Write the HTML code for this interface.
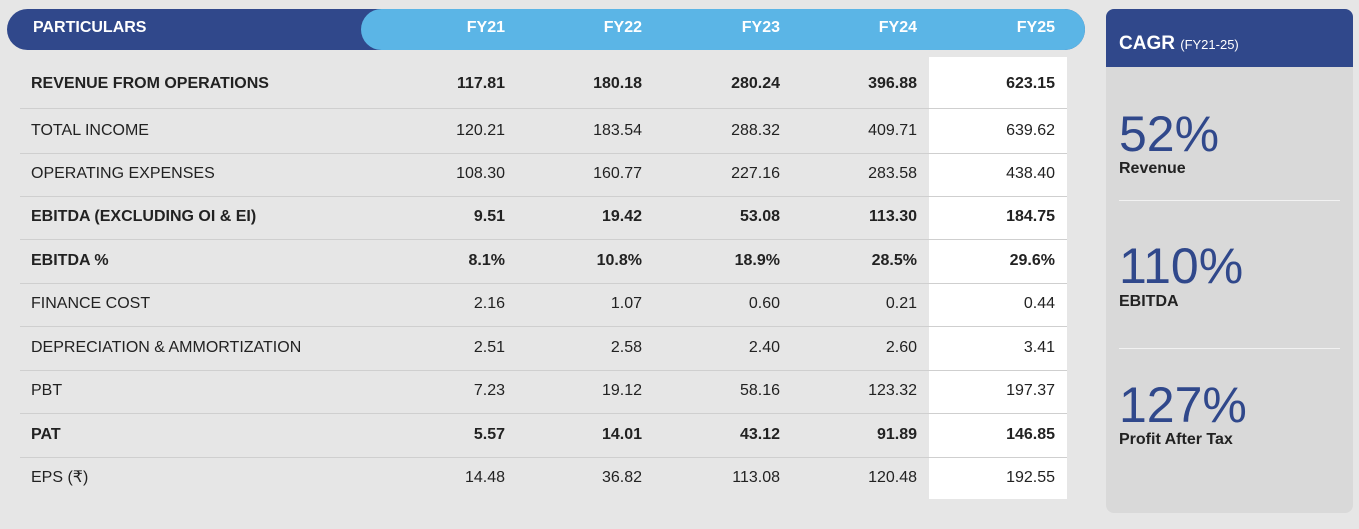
<!DOCTYPE html>
<html><head><meta charset="utf-8"><style>
body{margin:0;width:1359px;height:529px;background:#e6e6e6;font-family:"Liberation Sans",sans-serif;position:relative;overflow:hidden}
.abs{position:absolute}
.hdr{left:7px;top:9px;width:1078px;height:41px;background:#30488b;border-radius:21px}
.hdr2{left:361px;top:9px;width:724px;height:41px;background:#5bb5e6;border-radius:21px}
.ht{color:#fff;font-weight:bold;font-size:16px;top:19px}
.cell{font-size:16px;color:#222;height:20px;line-height:20px}
.b{font-weight:bold}
.div{left:20px;width:1047px;height:1px;background:#cfcfcf}
.wcol{left:929px;top:57px;width:138px;height:442px;background:#fff}
.panel{left:1106px;top:9px;width:247px;height:504px;background:#d9d9d9;border-radius:8px;overflow:hidden}
.phead{left:0;top:0;width:247px;height:58px;background:#30488b}
.big{left:13px;font-size:50px;color:#30488b;line-height:50px}
.lbl{left:13px;font-size:16px;font-weight:bold;color:#222}
.sep{left:13px;width:221px;height:1px;background:#f2f2f2}
</style></head><body>
<div class="abs wcol"></div>
<div class="abs hdr"></div>
<div class="abs hdr2"></div>
<div class="abs ht" style="left:33px">PARTICULARS</div>
<div id="tbl"></div>
<div class="abs panel">
<div class="abs phead"></div>
<div class="abs" style="left:13px;top:24px;color:#fff;font-size:19px;font-weight:bold">CAGR <span style="font-size:13px;font-weight:normal">(FY21-25)</span></div>
<div class="abs big" style="top:100px">52%</div>
<div class="abs lbl" style="top:151px">Revenue</div>
<div class="abs sep" style="top:191px"></div>
<div class="abs big" style="top:232px">110%</div>
<div class="abs lbl" style="top:284px">EBITDA</div>
<div class="abs sep" style="top:339px"></div>
<div class="abs big" style="top:371px">127%</div>
<div class="abs lbl" style="top:422px">Profit After Tax</div>
</div>
<script>
const years=["FY21","FY22","FY23","FY24","FY25"];
const rows=["REVENUE FROM OPERATIONS","TOTAL INCOME","OPERATING EXPENSES","EBITDA (EXCLUDING OI & EI)","EBITDA %","FINANCE COST","DEPRECIATION & AMMORTIZATION","PBT","PAT","EPS (₹)"];
const bold=[1,0,0,1,1,0,0,0,1,0];
const values=[
["117.81","180.18","280.24","396.88","623.15"],
["120.21","183.54","288.32","409.71","639.62"],
["108.30","160.77","227.16","283.58","438.40"],
["9.51","19.42","53.08","113.30","184.75"],
["8.1%","10.8%","18.9%","28.5%","29.6%"],
["2.16","1.07","0.60","0.21","0.44"],
["2.51","2.58","2.40","2.60","3.41"],
["7.23","19.12","58.16","123.32","197.37"],
["5.57","14.01","43.12","91.89","146.85"],
["14.48","36.82","113.08","120.48","192.55"]];
const t=document.getElementById('tbl');
const colR=[505,642,780,917,1055];
years.forEach((y,i)=>{const d=document.createElement('div');


d.className='abs ht';d.style.left=(colR[i]-80)+'px';d.style.width='80px';d.style.textAlign='right';d.textContent=y;t.appendChild(d);});
const rowC=[84,131,174,217,261,304,348,391,435,478];
rows.forEach((r,i)=>{
 const c=rowC[i];
 const l=document.createElement('div');
 
 
 l.className='abs cell'+(bold[i]?' b':'');l.style.left='31px';l.style.top=(c-10)+'px';l.textContent=r;t.appendChild(l);
 values[i].forEach((v,j)=>{const e=document.createElement('div');
 
 
 e.className='abs cell'+(bold[i]?' b':'');e.style.left=(colR[j]-100)+'px';e.style.width='100px';e.style.textAlign='right';e.style.top=(c-10)+'px';e.textContent=v;t.appendChild(e);});
 if(i<rows.length-1){const dv=document.createElement('div');
 
 
 dv.className='abs div';dv.style.top=Math.round((c+rowC[i+1])/2)+'px';if(i==0)dv.style.top='108px';t.appendChild(dv);}
});
</script>
</body></html>
